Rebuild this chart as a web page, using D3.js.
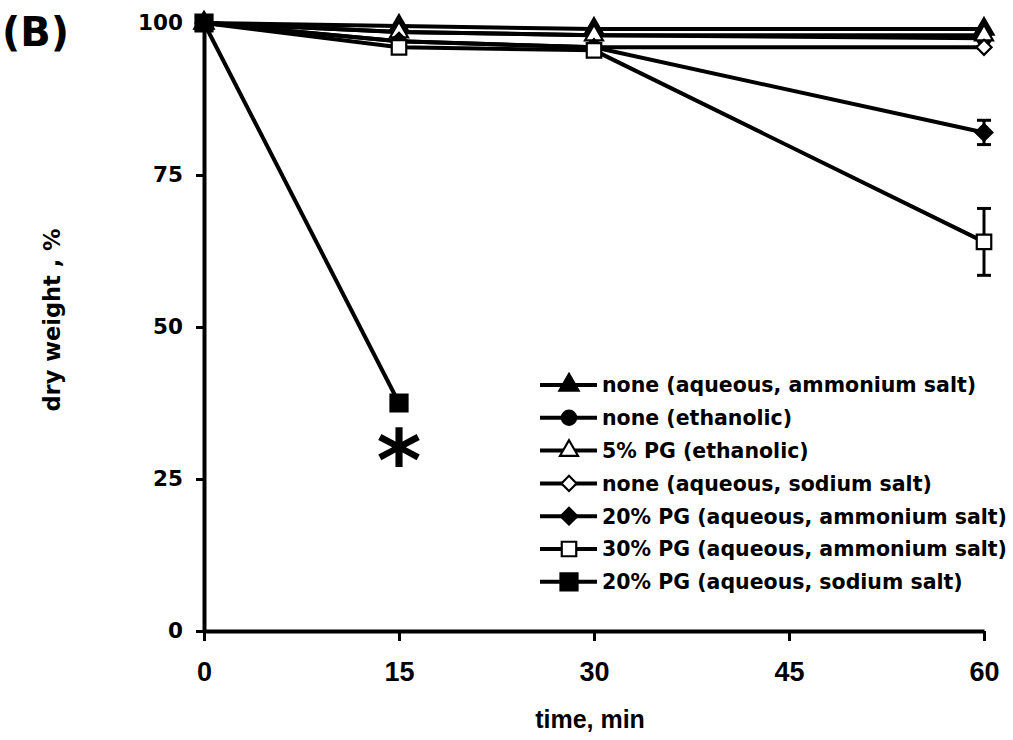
<!DOCTYPE html>
<html>
<head>
<meta charset="utf-8">
<script src="https://cdn.jsdelivr.net/npm/d3@7"></script>
<style>
  body { margin: 0; background: #fff; }
  svg { display: block; }
</style>
</head>
<body>
<div id="vis"></div>
<script>
// data
const times = [0, 15, 30, 60];
const seriesNames = [
  "none (aqueous, ammonium salt)",
  "none (ethanolic)",
  "5% PG (ethanolic)",
  "none (aqueous, sodium salt)",
  "20% PG (aqueous, ammonium salt)",
  "30% PG (aqueous, ammonium salt)",
  "20% PG (aqueous, sodium salt)"
];
const noneAqAmm   = [100, 99.5, 99, 99];
const noneEth     = [100, 98.5, 98, 97.5];
const pg5Eth      = [100, 98.5, 98, 98];
const noneAqNa    = [100, 97, 96, 96];
const pg20AqAmm   = [100, 97, 96, 82];
const pg30AqAmm   = [100, 96, 95.5, 64];
const pg20AqNa    = [100, 37.5, null, null];
const pg20AqAmmErr = [0, 0, 0, 2];
const pg30AqAmmErr = [0, 0, 0, 5.5];
const xTicks = [0, 15, 30, 45, 60];
const yTicks = [0, 25, 50, 75, 100];

const W = 1013, H = 740;
const svg = d3.select('#vis').append('svg')
  .attr('width', W)
  .attr('height', H);

const x = d3.scaleLinear().domain([0, 60]).range([204, 984]);
const y = d3.scaleLinear().domain([0, 100]).range([631, 23]);

const boldSans = "'DejaVu Sans', sans-serif";
const arialBold = "'Liberation Sans', Arial, sans-serif";

// marker styles, one per series
const markers = [
  { type: d3.symbolTriangle, size: 160, fill: 'black', rot: 0 },
  { type: d3.symbolCircle, size: 160, fill: 'black', rot: 0 },
  { type: d3.symbolTriangle, size: 140, fill: 'white', rot: 0 },
  { type: d3.symbolSquare, size: 115, fill: 'white', rot: 45 },
  { type: d3.symbolSquare, size: 140, fill: 'black', rot: 45 },
  { type: d3.symbolSquare, size: 210, fill: 'white', rot: 0 },
  { type: d3.symbolSquare, size: 290, fill: 'black', rot: 0 }
];

const series = [noneAqAmm, noneEth, pg5Eth, noneAqNa, pg20AqAmm, pg30AqAmm, pg20AqNa]
  .map((vals, i) => ({
    name: seriesNames[i],
    marker: markers[i],
    points: times.map((t, j) => ({ t: t, v: vals[j] })).filter(p => p.v != null)
  }));
const errors = [
  { vals: pg20AqAmm, err: pg20AqAmmErr },
  { vals: pg30AqAmm, err: pg30AqAmmErr }
];

// axes
const xAxis = svg.append('g')
  .attr('transform', `translate(0,${y(0)})`)
  .call(d3.axisBottom(x).tickValues(xTicks).tickSize(10).tickSizeOuter(0).tickPadding(21));
const yAxis = svg.append('g')
  .attr('transform', `translate(${x(0)},0)`)
  .call(d3.axisLeft(y).tickValues(yTicks).tickSize(8).tickSizeOuter(0).tickPadding(13));

[xAxis, yAxis].forEach(g => {
  g.select('.domain').attr('stroke', 'black').attr('stroke-width', 4);
  g.selectAll('.tick line').attr('stroke', 'black').attr('stroke-width', 3);
});
xAxis.selectAll('.tick text')
  .style('font-family', arialBold).style('font-weight', 'bold').style('font-size', '27px').attr('fill', 'black');
yAxis.selectAll('.tick text')
  .style('font-family', boldSans).style('font-weight', 'bold').style('font-size', '21.5px').attr('fill', 'black');

// lines
const line = d3.line().x(d => x(d.t)).y(d => y(d.v));
svg.selectAll('.series-line')
  .data(series)
  .join('path')
  .attr('class', 'series-line')
  .attr('fill', 'none')
  .attr('stroke', 'black')
  .attr('stroke-width', 4)
  .attr('d', d => line(d.points));

// error bars
errors.forEach(e => {
  times.forEach((t, j) => {
    if (!e.err[j]) return;
    const g = svg.append('g').attr('stroke', 'black').attr('stroke-width', 3);
    g.append('line')
      .attr('x1', x(t)).attr('x2', x(t))
      .attr('y1', y(e.vals[j] + e.err[j])).attr('y2', y(e.vals[j] - e.err[j]));
    [e.vals[j] + e.err[j], e.vals[j] - e.err[j]].forEach(v => {
      g.append('line')
        .attr('x1', x(t) - 7).attr('x2', x(t) + 7)
        .attr('y1', y(v)).attr('y2', y(v));
    });
  });
});

// markers
series.forEach(s => {
  svg.selectAll(null)
    .data(s.points)
    .join('path')
    .attr('d', d3.symbol().type(s.marker.type).size(s.marker.size))
    .attr('transform', d => `translate(${x(d.t)},${y(d.v)}) rotate(${s.marker.rot})`)
    .attr('fill', s.marker.fill)
    .attr('stroke', 'black')
    .attr('stroke-width', 2.2);
});

// asterisk under the 15 min point
svg.append('text')
  .attr('x', x(15))
  .attr('y', y(pg20AqNa[1]) + 88)
  .attr('text-anchor', 'middle')
  .style('font-family', boldSans)
  .style('font-weight', 'bold')
  .style('font-size', '86px')
  .text('*');

// legend
const legend = svg.append('g');
series.forEach((s, i) => {
  const ly = 385 + i * 32.8;
  legend.append('line')
    .attr('x1', 540).attr('x2', 597)
    .attr('y1', ly).attr('y2', ly)
    .attr('stroke', 'black').attr('stroke-width', 4);
  legend.append('path')
    .attr('d', d3.symbol().type(s.marker.type).size(s.marker.size))
    .attr('transform', `translate(569,${ly}) rotate(${s.marker.rot})`)
    .attr('fill', s.marker.fill)
    .attr('stroke', 'black')
    .attr('stroke-width', 2.2);
  legend.append('text')
    .attr('x', 602)
    .attr('y', ly)
    .attr('dy', '0.36em')
    .style('font-family', boldSans)
    .style('font-weight', 'bold')
    .style('font-size', '20.5px')
    .text(s.name);
});

// titles
svg.append('text')
  .attr('transform', 'translate(52,320) rotate(-90)')
  .attr('text-anchor', 'middle')
  .attr('dy', '0.36em')
  .style('font-family', boldSans)
  .style('font-weight', 'bold')
  .style('font-size', '22.5px')
  .text('dry weight , %');

svg.append('text')
  .attr('x', 590)
  .attr('y', 728)
  .attr('text-anchor', 'middle')
  .style('font-family', arialBold)
  .style('font-weight', 'bold')
  .style('font-size', '25px')
  .text('time, min');

svg.append('text')
  .attr('x', 2)
  .attr('y', 46)
  .style('font-family', boldSans)
  .style('font-weight', 'bold')
  .style('font-size', '40px')
  .text('(B)');
</script>
</body>
</html>
